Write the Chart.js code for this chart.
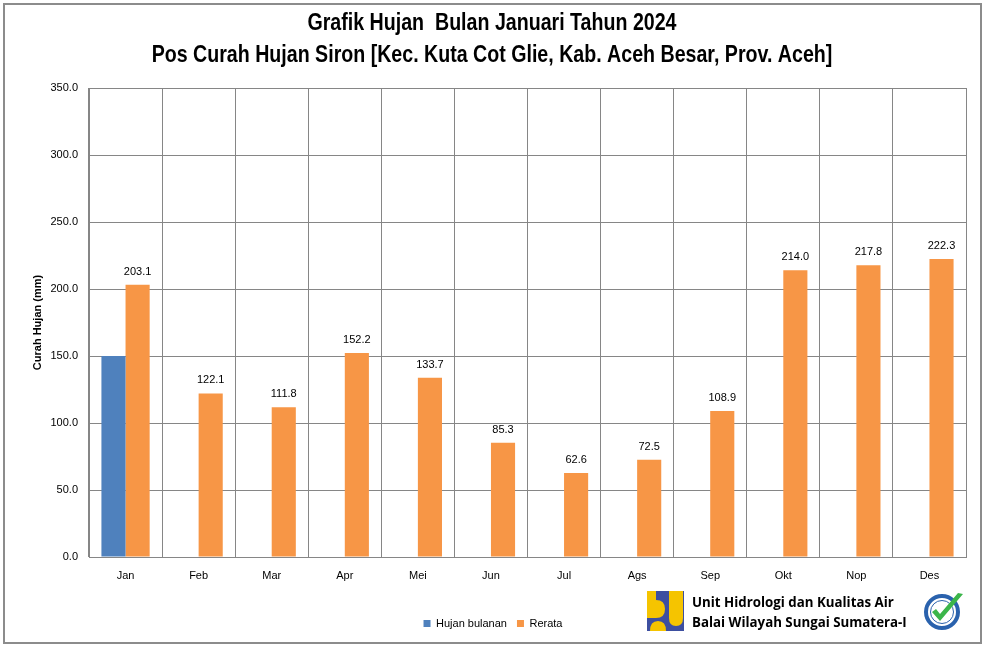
<!DOCTYPE html>
<html>
<head>
<meta charset="utf-8">
<script src="https://cdn.jsdelivr.net/npm/chart.js@4.4.1/dist/chart.umd.min.js"></script>
<style>
  html, body { margin: 0; padding: 0; background: #fff; }
  #wrap { position: relative; width: 984px; height: 645px; overflow: hidden; }
  #frame { position: absolute; left: 3px; top: 3px; width: 975px; height: 637px; border: 2px solid #8c8c8c; box-sizing: content-box; pointer-events: none; }
  canvas { position: absolute; left: 0; top: 0; }
  #brand { position: absolute; left: 647px; top: 591px; width: 330px; height: 42px; }
  #brandText { position: absolute; left: 45px; top: 1px; font-family: "Open Sans", sans-serif; font-weight: 700; font-size: 13.3px; line-height: 20px; color: #000; white-space: nowrap; }
</style>
</head>
<body>
<div id="wrap">
  <canvas id="c" width="984" height="645"></canvas>
  <div id="frame"></div>
  <div id="brand">
    <svg width="40" height="42" style="position:absolute;left:0;top:0">
      <rect x="0" y="0" width="37" height="40" fill="#3d4fa0"/>
      <path d="M0 0 H9 V9 Q18 9 18 18 Q18 27 9 27 H0 Z" fill="#f5c400"/>
      <path d="M22 0 H36 V27 Q36 35 29 35 Q22 35 22 27 Z" fill="#f5c400"/>
      <path d="M3 40 Q3 30 11 30 Q19 30 19 40 Z" fill="#f5c400"/>
    </svg>
    <div id="brandText">Unit Hidrologi dan Kualitas Air<br>Balai Wilayah Sungai Sumatera-I</div>
    <svg width="44" height="42" style="position:absolute;left:276px;top:-1px">
      <circle cx="19" cy="22" r="16" fill="#fff" stroke="#2a62ad" stroke-width="4"/>
      <circle cx="19" cy="22" r="11.5" fill="none" stroke="#2a62ad" stroke-width="1"/>
      <path d="M9 22 L17 31 L40 4 L35 3 L17 24 L13 19 Z" fill="#3bb54a"/>
    </svg>
  </div>
</div>
<script>
const categories = ['Jan','Feb','Mar','Apr','Mei','Jun','Jul','Ags','Sep','Okt','Nop','Des'];
const hujanBulanan = [150.0, null, null, null, null, null, null, null, null, null, null, null];
const rerata = [203.1, 122.1, 111.8, 152.2, 133.7, 85.3, 62.6, 72.5, 108.9, 214.0, 217.8, 222.3];
const titleLines = ['Grafik Hujan  Bulan Januari Tahun 2024', 'Pos Curah Hujan Siron [Kec. Kuta Cot Glie, Kab. Aceh Besar, Prov. Aceh]'];
const yTitle = 'Curah Hujan (mm)';
const yMin = 0, yMax = 350, yStep = 50;

const labelPlugin = {
  id: 'valueLabels',
  afterDatasetsDraw(chart) {
    const ctx = chart.ctx;
    const meta = chart.getDatasetMeta(1);
    ctx.save();
    ctx.font = '11px "Liberation Sans", Arial, sans-serif';
    ctx.fillStyle = '#000';
    ctx.textAlign = 'center';
    ctx.textBaseline = 'middle';
    meta.data.forEach((bar, i) => {
      const v = rerata[i];
      if (v == null) return;
      ctx.fillText(v.toFixed(1), bar.x, bar.y - 13);
    });
    ctx.restore();
  }
};

// Narrow (condensed) bold title, like Arial Narrow Bold
const titlePlugin = {
  id: 'narrowTitle',
  afterDraw(chart) {
    const ctx = chart.ctx;
    const cx = chart.width / 2;
    const ys = [23, 55];
    ctx.save();
    ctx.font = 'bold 24px "Liberation Sans", Arial, sans-serif';
    ctx.fillStyle = '#000';
    ctx.textAlign = 'center';
    ctx.textBaseline = 'middle';
    const sx = 0.817;
    titleLines.forEach((t, i) => {
      ctx.save();
      ctx.translate(cx, ys[i]);
      ctx.scale(sx, 1);
      ctx.fillText(t, 0, 0);
      ctx.restore();
    });
    ctx.restore();
  }
};

const frameColor = '#868686';
new Chart(document.getElementById('c'), {
  type: 'bar',
  data: {
    labels: categories,
    datasets: [
      { label: 'Hujan bulanan', data: hujanBulanan, backgroundColor: '#4f81bd', borderWidth: 0 },
      { label: 'Rerata', data: rerata, backgroundColor: '#f79646', borderWidth: 0 }
    ]
  },
  options: {
    responsive: false,
    animation: false,
    layout: { padding: { top: 88, right: 18, bottom: 6, left: 20 } },
    datasets: { bar: { categoryPercentage: 0.66, barPercentage: 1.0 } },
    plugins: {
      title: { display: false },
      legend: {
        position: 'bottom',
        labels: {
          boxWidth: 7, boxHeight: 7, padding: 10,
          color: '#000',
          font: { family: '"Liberation Sans", Arial, sans-serif', size: 11 }
        }
      },
      tooltip: { enabled: false }
    },
    scales: {
      x: {
        grid: { display: true, offset: true, color: frameColor, drawTicks: false },
        border: { display: true, color: frameColor },
        ticks: { color: '#000', padding: 12, font: { family: '"Liberation Sans", Arial, sans-serif', size: 11 } },
        afterFit(scale) { scale.height = 51; }
      },
      y: {
        min: yMin, max: yMax,
        grid: { color: frameColor, drawTicks: false },
        border: { display: true, color: frameColor },
        ticks: {
          stepSize: yStep, padding: 11, color: '#000',
          font: { family: '"Liberation Sans", Arial, sans-serif', size: 11 },
          callback: v => Number(v).toFixed(1)
        },
        title: {
          display: true, text: yTitle, color: '#000',
          font: { family: '"Liberation Sans", Arial, sans-serif', size: 11, weight: 'bold' },
          padding: { top: 11, bottom: 0 }
        },
        afterFit(scale) { scale.width = 69; }
      }
    }
  },
  plugins: [labelPlugin, titlePlugin, {
    id: 'rightBorder',
    afterDraw(chart) {
      const a = chart.chartArea, ctx = chart.ctx;
      ctx.save();
      ctx.strokeStyle = frameColor; ctx.lineWidth = 1;
      ctx.beginPath();
      ctx.moveTo(Math.round(a.right) + 0.5, a.top);
      ctx.lineTo(Math.round(a.right) + 0.5, a.bottom);
      ctx.stroke();
      ctx.restore();
    }
  }]
});
</script>
</body>
</html>
